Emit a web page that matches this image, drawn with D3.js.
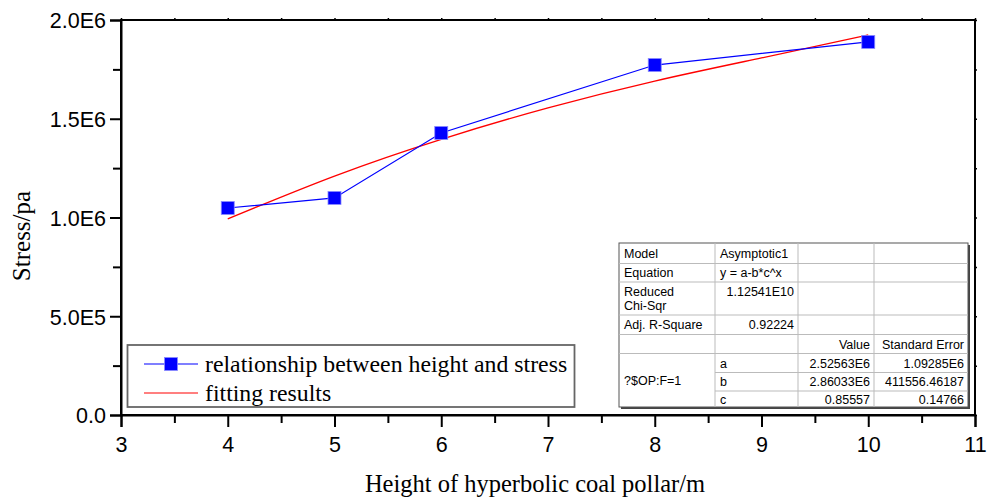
<!DOCTYPE html>
<html>
<head>
<meta charset="utf-8">
<script src="https://cdn.jsdelivr.net/npm/d3@7"></script>
<style>
  body { margin: 0; background: #fff; }
  svg { display: block; }
</style>
</head>
<body>
<div class="chart"></div>
<script>
// data
const heights = [4, 5, 6, 8, 10];
const stress = [1.048e6, 1.099e6, 1.428e6, 1.772e6, 1.889e6];
const fitX = [4, 5, 6, 7, 8, 9, 10];
const fitY = [0.993e6, 1.210e6, 1.396e6, 1.555e6, 1.691e6, 1.808e6, 1.924e6];
const xTicks = [3, 4, 5, 6, 7, 8, 9, 10, 11];
const yTicks = [0, 5e5, 1e6, 1.5e6, 2e6];
const yTickLabels = ["0.0", "5.0E5", "1.0E6", "1.5E6", "2.0E6"];
const legendLabels = ["relationship between height and stress", "fitting results"];
const tableRows = [
  ["Model", "Asymptotic1", "", ""],
  ["Equation", "y = a-b*c^x", "", ""],
  ["Reduced\nChi-Sqr", "1.12541E10", "", ""],
  ["Adj. R-Square", "0.92224", "", ""],
  ["", "", "Value", "Standard Error"],
  ["?$OP:F=1", "a", "2.52563E6", "1.09285E6"],
  ["", "b", "2.86033E6", "411556.46187"],
  ["", "c", "0.85557", "0.14766"]
];

const width = 999;
const height = 499;
const pLeft = 121, pRight = 975, pTop = 20, pBottom = 415;

const svg = d3.select(".chart")
  .append("svg")
  .attr("width", width)
  .attr("height", height);

const xScale = d3.scaleLinear().domain([3, 11]).range([pLeft, pRight]);
const yScale = d3.scaleLinear().domain([0, 2e6]).range([pBottom, pTop]);

//minor ticks on top and right (tiny)
svg.append("g")
  .attr("transform", "translate(0," + pTop + ")")
  .call(d3.axisTop(xScale).tickValues(d3.range(3, 11.01, 0.5)).tickSize(2).tickFormat(""))
  .call(g => g.select(".domain").remove())
  .selectAll("line").attr("stroke", "#000").attr("stroke-width", 1.5);
svg.append("g")
  .attr("transform", "translate(" + pRight + ",0)")
  .call(d3.axisRight(yScale).tickValues(d3.range(0, 2e6 + 1, 2.5e5)).tickSize(2).tickFormat(""))
  .call(g => g.select(".domain").remove())
  .selectAll("line").attr("stroke", "#000").attr("stroke-width", 1.5);

//frame
svg.append("rect")
  .attr("x", pLeft).attr("y", pTop)
  .attr("width", pRight - pLeft).attr("height", pBottom - pTop)
  .attr("fill", "none").attr("stroke", "#000").attr("stroke-width", 2);

//minor ticks bottom / left
svg.append("g")
  .attr("transform", "translate(0," + pBottom + ")")
  .call(d3.axisBottom(xScale).tickValues(d3.range(3.5, 11, 1)).tickSize(8).tickFormat(""))
  .call(g => g.select(".domain").remove())
  .selectAll("line").attr("stroke", "#000").attr("stroke-width", 2);
svg.append("g")
  .attr("transform", "translate(" + pLeft + ",0)")
  .call(d3.axisLeft(yScale).tickValues(d3.range(2.5e5, 2e6, 5e5)).tickSize(8).tickFormat(""))
  .call(g => g.select(".domain").remove())
  .selectAll("line").attr("stroke", "#000").attr("stroke-width", 2);

//major axes
const xAxis = svg.append("g")
  .attr("transform", "translate(0," + pBottom + ")")
  .call(d3.axisBottom(xScale).tickValues(xTicks).tickSize(12).tickPadding(10).tickFormat(d3.format("d")));
const yAxis = svg.append("g")
  .attr("transform", "translate(" + pLeft + ",0)")
  .call(d3.axisLeft(yScale).tickValues(yTicks).tickSize(11).tickPadding(4).tickFormat((d, i) => yTickLabels[i]));
[xAxis, yAxis].forEach(g => {
  g.select(".domain").attr("stroke", "#000").attr("stroke-width", 2);
  g.selectAll("line").attr("stroke", "#000").attr("stroke-width", 2);
  g.selectAll("text")
    .attr("fill", "#000")
    .style("font-family", "'Liberation Sans', Arial, sans-serif")
    .style("font-size", "21.5px");
});
yAxis.selectAll("text").attr("dy", "0.36em");

//axis titles
svg.append("text")
  .attr("x", 535)
  .attr("y", 492)
  .attr("text-anchor", "middle")
  .style("font-family", "'Liberation Serif', 'Times New Roman', serif")
  .style("font-size", "24.5px")
  .text("Height of hyperbolic coal pollar/m");
svg.append("text")
  .attr("transform", "translate(30," + 236 + ") rotate(-90)")
  .attr("text-anchor", "middle")
  .style("font-family", "'Liberation Serif', 'Times New Roman', serif")
  .style("font-size", "25px")
  .text("Stress/pa");

//fitted curve
const fitLine = d3.line()
  .x(d => xScale(d[0]))
  .y(d => yScale(d[1]))
  .curve(d3.curveNatural);
svg.append("path")
  .datum(fitX.map((x, i) => [x, fitY[i]]))
  .attr("d", fitLine)
  .attr("fill", "none")
  .attr("stroke", "#ff0000")
  .attr("stroke-width", 1.3);

//measured line
const dataLine = d3.line()
  .x(d => xScale(d[0]))
  .y(d => yScale(d[1]));
svg.append("path")
  .datum(heights.map((x, i) => [x, stress[i]]))
  .attr("d", dataLine)
  .attr("fill", "none")
  .attr("stroke", "#0000ff")
  .attr("stroke-width", 1.2);

const ms = 13;
svg.selectAll(".pt")
  .data(heights)
  .enter()
  .append("rect")
  .attr("class", "pt")
  .attr("x", (d) => xScale(d) - ms / 2)
  .attr("y", (d, i) => yScale(stress[i]) - ms / 2)
  .attr("width", ms)
  .attr("height", ms)
  .attr("fill", "#0000ff")
  .attr("stroke", "#8a8aff")
  .attr("stroke-width", 0.8);

//legend
const lg = svg.append("g");
lg.append("rect")
  .attr("x", 127.5).attr("y", 345)
  .attr("width", 447).attr("height", 62)
  .attr("fill", "#fff").attr("stroke", "#666").attr("stroke-width", 1.8);
legendLabels.forEach((label, i) => {
  const cy = 364 + i * 29;
  lg.append("line")
    .attr("x1", 144).attr("x2", 198)
    .attr("y1", cy).attr("y2", cy)
    .attr("stroke", i === 0 ? "#0000ff" : "#ff0000")
    .attr("stroke-width", 1.2);
  if (i === 0) {
    lg.append("rect")
      .attr("x", 171 - 6.5).attr("y", cy - 6.5)
      .attr("width", 13).attr("height", 13)
      .attr("fill", "#0000ff").attr("stroke", "#8a8aff").attr("stroke-width", 0.8);
  }
  lg.append("text")
    .attr("x", 205).attr("y", cy + 8)
    .style("font-family", "'Liberation Serif', 'Times New Roman', serif")
    .style("font-size", "23.8px")
    .text(label);
});

//parameter table
const colX = [619, 715, 798, 874, 968];
const rowY = [243, 263.5, 282, 315, 334.5, 353.5, 372.5, 391, 407];
const tb = svg.append("g").style("font-family", "'Liberation Sans', Arial, sans-serif").style("font-size", "12.5px");
tb.append("rect")
  .attr("x", colX[0] + 2).attr("y", rowY[0] + 2)
  .attr("width", colX[4] - colX[0]).attr("height", rowY[8] - rowY[0])
  .attr("fill", "#444");
tb.append("rect")
  .attr("x", colX[0]).attr("y", rowY[0])
  .attr("width", colX[4] - colX[0]).attr("height", rowY[8] - rowY[0])
  .attr("fill", "#fff").attr("stroke", "#555").attr("stroke-width", 1);
//grid lines
for (let r = 1; r < 8; r++) {
  const x0 = r >= 6 ? colX[1] : colX[0];
  tb.append("line")
    .attr("x1", x0).attr("x2", colX[4])
    .attr("y1", rowY[r]).attr("y2", rowY[r])
    .attr("stroke", "#bbb");
}
for (let c = 1; c < 4; c++) {
  tb.append("line")
    .attr("x1", colX[c]).attr("x2", colX[c])
    .attr("y1", rowY[0]).attr("y2", rowY[8])
    .attr("stroke", "#bbb");
}
tableRows.forEach((row, r) => {
  row.forEach((cell, c) => {
    if (!cell) return;
    let yMid = (rowY[r] + rowY[r + 1]) / 2;
    if (r === 5 && c === 0) yMid = (rowY[5] + rowY[8]) / 2;
    const rightAlign = c >= 2 || ((r === 2 || r === 3) && c === 1);
    const t = tb.append("text")
      .attr("x", rightAlign ? colX[c + 1] - 4 : colX[c] + 5)
      .attr("text-anchor", rightAlign ? "end" : "start")
      .attr("fill", "#000");
    const lines = cell.split("\n");
    if (r === 2 && c === 1) yMid = rowY[2] + 9;
    lines.forEach((ln, k) => {
      t.append("tspan")
        .attr("x", rightAlign ? colX[c + 1] - 4 : colX[c] + 5)
        .attr("y", yMid + 4.5 + (k - (lines.length - 1) / 2) * 14)
        .text(ln);
    });
  });
});
</script>
</body>
</html>
